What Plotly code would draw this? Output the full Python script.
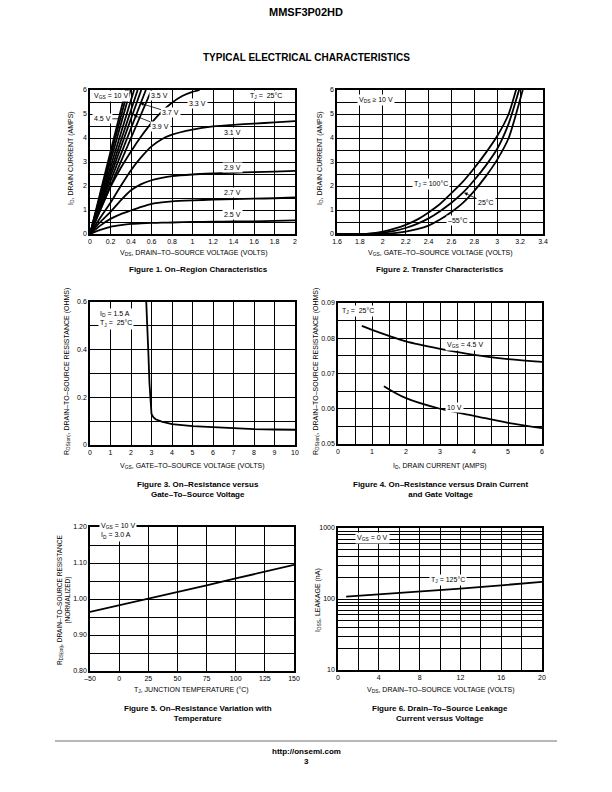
import plotly.graph_objects as go

W, H = 612, 792
FONT = "Liberation Sans Narrow, Arial Narrow, Liberation Sans, Arial, sans-serif"
BFONT = "Liberation Sans, Arial, Helvetica, sans-serif"

# ---------------- Figure 1: On-Region Characteristics ----------------
fig1_steep_vgs = ["10 V", "6 V", "4.5 V", "4.3 V", "4.1 V", "3.9 V", "3.7 V", "3.5 V"]
fig1_steep_vds = [0.35, 0.37, 0.395, 0.43, 0.465, 0.50, 0.545, 0.60]  # VDS where ID reaches 6 A
fig1_steep_id = [0, 6]
fig1_vds = [0, 0.1, 0.2, 0.3, 0.4, 0.5, 0.6, 0.7, 0.8, 1.0, 1.2, 1.4, 1.6, 1.8, 2.0]
fig1_id_3v1 = [0, 0.68, 1.30, 2.00, 2.66, 3.20, 3.65, 3.95, 4.14, 4.35, 4.48, 4.55, 4.60, 4.65, 4.70]
fig1_id_2v9 = [0, 0.50, 0.92, 1.40, 1.82, 2.08, 2.24, 2.34, 2.41, 2.48, 2.52, 2.55, 2.58, 2.60, 2.63]
fig1_id_2v7 = [0, 0.35, 0.63, 0.83, 0.98, 1.13, 1.26, 1.32, 1.36, 1.40, 1.43, 1.45, 1.47, 1.49, 1.52]
fig1_id_2v5 = [0, 0.17, 0.30, 0.37, 0.42, 0.44, 0.46, 0.47, 0.48, 0.50, 0.51, 0.52, 0.53, 0.55, 0.57]
fig1_vds_3v3 = [0, 0.1, 0.2, 0.3, 0.4, 0.5, 0.6, 0.7, 0.8, 0.9, 1.0, 1.07]
fig1_id_3v3 = [0, 1.00, 1.96, 2.75, 3.44, 4.07, 4.63, 5.10, 5.47, 5.75, 5.92, 6.0]

# ---------------- Figure 2: Transfer Characteristics ----------------
fig2_vgs = [1.6, 1.8, 1.9, 2.0, 2.1, 2.2, 2.3, 2.4, 2.5, 2.6, 2.7, 2.8, 2.9, 3.0, 3.1, 3.2, 3.25]
fig2_id_100c = [0, 0, 0.03, 0.10, 0.22, 0.38, 0.60, 0.90, 1.25, 1.70, 2.18, 2.75, 3.38, 4.08, 5.00, 6.60, 7.40]
fig2_id_25c = [0, 0, 0.01, 0.05, 0.13, 0.25, 0.42, 0.65, 0.95, 1.30, 1.72, 2.25, 2.85, 3.55, 4.60, 6.15, 7.00]
fig2_id_m55c = [0, 0, 0, 0.01, 0.04, 0.10, 0.20, 0.35, 0.60, 0.92, 1.30, 1.80, 2.40, 3.10, 4.00, 5.60, 6.50]

# ---------------- Figure 3: RDS(on) vs VGS ----------------
fig3_vgs = [2.72, 2.75, 2.8, 2.85, 2.9, 2.95, 3.0, 3.1, 3.2, 3.5, 4, 5, 6, 7, 8, 9, 10]
fig3_rds = [0.65, 0.60, 0.50, 0.38, 0.26, 0.17, 0.13, 0.116, 0.108, 0.098, 0.088, 0.079, 0.074, 0.070, 0.067, 0.065, 0.064]

# ---------------- Figure 4: RDS(on) vs ID ----------------
fig4_id_45 = [0.7, 1.0, 1.5, 2.0, 3.0, 4.0, 5.0, 6.0]
fig4_rds_45 = [0.0835, 0.0824, 0.0807, 0.0791, 0.0770, 0.0753, 0.0741, 0.0733]
fig4_id_10 = [1.35, 2.0, 3.0, 4.0, 5.0, 6.0]
fig4_rds_10 = [0.0664, 0.0630, 0.0600, 0.0580, 0.0560, 0.0545]

# ---------------- Figure 5: RDS(on) vs Temperature ----------------
fig5_tj_labels = ["–50", "0", "25", "50", "75", "100", "125", "150"]
fig5_rds_norm = [0.964, 0.982, 1.001, 1.020, 1.038, 1.057, 1.076, 1.095]

# ---------------- Figure 6: Leakage ----------------
fig6_vds = [0.8, 4, 8, 12, 16, 20]
fig6_idss = [108, 116, 127, 140, 156, 174]


def xd(x0, x1):
    return [x0 / W, x1 / W]


def yd(top, bottom):
    return [1 - bottom / H, 1 - top / H]


GRID = dict(showgrid=True, gridcolor="black", gridwidth=0.8)
BASE = dict(showline=True, mirror=True, linecolor="black", linewidth=1.5, ticks="",
            zeroline=False, tickfont=dict(family=FONT, size=7, color="black"),
            fixedrange=True, automargin=False, **GRID)


def axis(domain, anchor, rng=None, dtick=None, minor=None, **kw):
    d = dict(BASE)
    d.update(domain=domain, anchor=anchor)
    if rng is not None:
        d["range"] = rng
    if dtick is not None:
        d["dtick"] = dtick
    if minor is not None:
        d["minor"] = dict(dtick=minor, showgrid=True, gridcolor="black", gridwidth=0.8, ticks="")
    d.update(kw)
    return d


fig = go.Figure()
LINE = dict(color="black", width=1.8)

# Figure 1 traces
for vgs, vtop in zip(fig1_steep_vgs, fig1_steep_vds):
    fig.add_trace(go.Scatter(x=[0, vtop], y=fig1_steep_id, mode="lines", line=LINE,
                             name=vgs, xaxis="x", yaxis="y"))
fig.add_trace(go.Scatter(x=fig1_vds_3v3, y=fig1_id_3v3, mode="lines", line=dict(LINE, shape="spline", smoothing=0.6),
                         name="3.3 V", xaxis="x", yaxis="y"))
for name, ys in [("3.1 V", fig1_id_3v1), ("2.9 V", fig1_id_2v9), ("2.7 V", fig1_id_2v7), ("2.5 V", fig1_id_2v5)]:
    fig.add_trace(go.Scatter(x=fig1_vds, y=ys, mode="lines", line=dict(LINE, shape="spline", smoothing=0.6),
                             name=name, xaxis="x", yaxis="y"))

# Figure 2 traces
for name, ys in [("100°C", fig2_id_100c), ("25°C", fig2_id_25c), ("-55°C", fig2_id_m55c)]:
    fig.add_trace(go.Scatter(x=fig2_vgs, y=ys, mode="lines", line=dict(LINE, shape="spline", smoothing=0.6),
                             name=name, xaxis="x2", yaxis="y2"))

# Figure 3
fig.add_trace(go.Scatter(x=fig3_vgs, y=fig3_rds, mode="lines", line=LINE, xaxis="x3", yaxis="y3"))

# Figure 4
fig.add_trace(go.Scatter(x=fig4_id_45, y=fig4_rds_45, mode="lines", line=dict(LINE, shape="spline"),
                         xaxis="x4", yaxis="y4"))
fig.add_trace(go.Scatter(x=fig4_id_10, y=fig4_rds_10, mode="lines", line=dict(LINE, shape="spline"),
                         xaxis="x4", yaxis="y4"))

# Figure 5
fig.add_trace(go.Scatter(x=fig5_tj_labels, y=fig5_rds_norm, mode="lines", line=LINE, xaxis="x5", yaxis="y5"))

# Figure 6
fig.add_trace(go.Scatter(x=fig6_vds, y=fig6_idss, mode="lines", line=LINE, xaxis="x6", yaxis="y6"))

layout = dict(
    width=W, height=H, autosize=False, margin=dict(l=0, r=0, t=0, b=0, pad=0),
    paper_bgcolor="white", plot_bgcolor="white", showlegend=False,
    font=dict(family=FONT, size=7, color="black"),
    xaxis=axis(xd(90, 295), "y", [0, 2], 0.2),
    yaxis=axis(yd(90, 234), "x", [0, 6], 1, 0.5),
    xaxis2=axis(xd(337, 543), "y2", [1.6, 3.4], 0.2, tick0=1.6),
    yaxis2=axis(yd(90, 234), "x2", [0, 6], 1, 0.5),
    xaxis3=axis(xd(90, 295), "y3", [0, 10], 1),
    yaxis3=axis(yd(302, 445), "x3", [0, 0.6], 0.2, 0.1),
    xaxis4=axis(xd(338, 542), "y4", [0, 6], 1, 0.5),
    yaxis4=axis(yd(303, 444), "x4", [0.05, 0.09], 0.01, 0.005, tickformat=".2f"),
    xaxis5=axis(xd(90, 294), "y5", [0, 7], type="category"),
    yaxis5=axis(yd(527, 671), "x5", [0.8, 1.2], 0.1, 0.05, tickformat=".2f"),
    xaxis6=axis(xd(338, 542), "y6", [0, 20], 4, 2),
    yaxis6=axis(yd(528, 670), "x6", [1, 3], 1, "D1", type="log"),
)
fig.update_layout(**layout)

ann = []


def pa(text, px, py, size=7, bold=False, angle=0, xanchor="center", align="center"):
    ann.append(dict(text=text, x=px / W, y=1 - py / H, xref="paper", yref="paper",
                    showarrow=False, textangle=angle, xanchor=xanchor, yanchor="middle", align=align,
                    font=dict(family=BFONT if bold else FONT, size=size, color="black")))


def da(text, x, y, xr, yr, arrow_to=None, xanchor="center", align="center", bg="white"):
    d = dict(text=text, x=x, y=y, xref=xr, yref=yr, showarrow=False, xanchor=xanchor, align=align,
             bgcolor=bg, borderpad=1, font=dict(family=FONT, size=7, color="black"))
    if arrow_to is not None:
        d.update(showarrow=True, x=arrow_to[0], y=arrow_to[1], ax=x, ay=y, axref=xr, ayref=yr,
                 arrowhead=arrow_to[2], arrowsize=0.9, arrowwidth=0.8, arrowcolor="black", standoff=0)
    ann.append(d)


# page texts
pa("<b>MMSF3P02HD</b>", 306, 12, size=11, bold=True)
pa("<b>TYPICAL ELECTRICAL CHARACTERISTICS</b>", 306, 57, size=10, bold=True)
pa("<b>http://onsemi.com</b>", 306, 751, size=8, bold=True)
pa("<b>3</b>", 306, 761, size=8, bold=True)

# captions
pa("<b>Figure 1. On–Region Characteristics</b>", 198, 270, size=8, bold=True)
pa("<b>Figure 2. Transfer Characteristics</b>", 440, 270, size=8, bold=True)
pa("<b>Figure 3. On–Resistance versus<br>Gate–To–Source Voltage</b>", 198, 489, size=8, bold=True)
pa("<b>Figure 4. On–Resistance versus Drain Current<br>and Gate Voltage</b>", 441, 489, size=8, bold=True)
pa("<b>Figure 5. On–Resistance Variation with<br>Temperature</b>", 198, 713, size=8, bold=True)
pa("<b>Figure 6. Drain–To–Source Leakage<br>Current versus Voltage</b>", 440, 713, size=8, bold=True)

# axis titles
pa("V<sub>DS</sub>, DRAIN–TO–SOURCE VOLTAGE (VOLTS)", 193, 253)
pa("V<sub>GS</sub>, GATE–TO–SOURCE VOLTAGE (VOLTS)", 440, 253)
pa("V<sub>GS</sub>, GATE–TO–SOURCE VOLTAGE (VOLTS)", 192, 466)
pa("I<sub>D</sub>, DRAIN CURRENT (AMPS)", 440, 466)
pa("T<sub>J</sub>, JUNCTION TEMPERATURE (°C)", 191, 690)
pa("V<sub>DS</sub>, DRAIN–TO–SOURCE VOLTAGE (VOLTS)", 440, 690)
pa("I<sub>D</sub>, DRAIN CURRENT (AMPS)", 71, 158, angle=-90)
pa("I<sub>D</sub>, DRAIN CURRENT (AMPS)", 320, 158, angle=-90)
pa("R<sub>DS(on)</sub>, DRAIN–TO–SOURCE RESISTANCE (OHMS)", 67, 372, angle=-90)
pa("R<sub>DS(on)</sub>, DRAIN–TO–SOURCE RESISTANCE (OHMS)", 316, 372, angle=-90)
pa("R<sub>DS(on)</sub>, DRAIN–TO–SOURCE RESISTANCE<br>(NORMALIZED)", 64, 600, size=6.5, angle=-90)
pa("I<sub>DSS</sub>, LEAKAGE (nA)", 318, 600, angle=-90)

# Figure 1 labels
da("V<sub>GS</sub> = 10 V", 0.015, 5.76, "x", "y", xanchor="left")
da("T<sub>J</sub> =  25°C", 1.72, 5.76, "x", "y")
da("3.5 V", 0.68, 5.78, "x", "y")
da("3.3 V", 1.05, 5.45, "x", "y")
da("3.7 V", 0.79, 5.05, "x", "y", arrow_to=(0.49, 5.45, 2))
da("3.9 V", 0.69, 4.5, "x", "y", arrow_to=(0.425, 4.95, 2))
da("4.5 V", 0.12, 4.8, "x", "y", arrow_to=(0.31, 4.8, 0))
da("3.1 V", 1.39, 4.25, "x", "y")
da("2.9 V", 1.39, 2.78, "x", "y")
da("2.7 V", 1.39, 1.72, "x", "y")
da("2.5 V", 1.39, 0.80, "x", "y")

# Figure 2 labels
da("V<sub>DS</sub> ≥ 10 V", 1.94, 5.6, "x2", "y2")
da("T<sub>J</sub> = 100°C", 2.42, 2.1, "x2", "y2")
da("25°C", 2.9, 1.3, "x2", "y2", arrow_to=(2.71, 1.72, 2))
da("–55°C", 2.66, 0.58, "x2", "y2")

# Figure 3 labels
da("I<sub>D</sub> = 1.5 A<br>T<sub>J</sub> =  25°C", 0.4, 0.53, "x3", "y3", xanchor="left", align="left")

# Figure 4 labels
da("T<sub>J</sub> =  25°C", 0.6, 0.0878, "x4", "y4")
da("V<sub>GS</sub> = 4.5 V", 3.73, 0.0781, "x4", "y4")
da("10 V", 3.42, 0.0604, "x4", "y4")

# Figure 5 labels (paper)
ann.append(dict(text="V<sub>GS</sub> = 10 V<br>I<sub>D</sub> = 3.0 A", x=99 / W, y=1 - 542 / H,
                xref="paper", yref="paper", showarrow=False, xanchor="left", align="left",
                bgcolor="white", borderpad=1, font=dict(family=FONT, size=7, color="black")))

# Figure 6 labels
da("V<sub>GS</sub> = 0 V", 3.4, 2.855, "x6", "y6")
da("T<sub>J</sub> = 125°C", 10.8, 2.268, "x6", "y6")

fig.update_layout(annotations=ann)

# footer rule
fig.add_shape(type="line", xref="paper", yref="paper", x0=55 / W, x1=557 / W,
              y0=1 - 741 / H, y1=1 - 741 / H, line=dict(color="#a0a0a0", width=1.5))

fig.write_html("out.html", config={"displayModeBar": False},
               post_script="document.body.style.margin='0px';document.body.style.padding='0px';")
